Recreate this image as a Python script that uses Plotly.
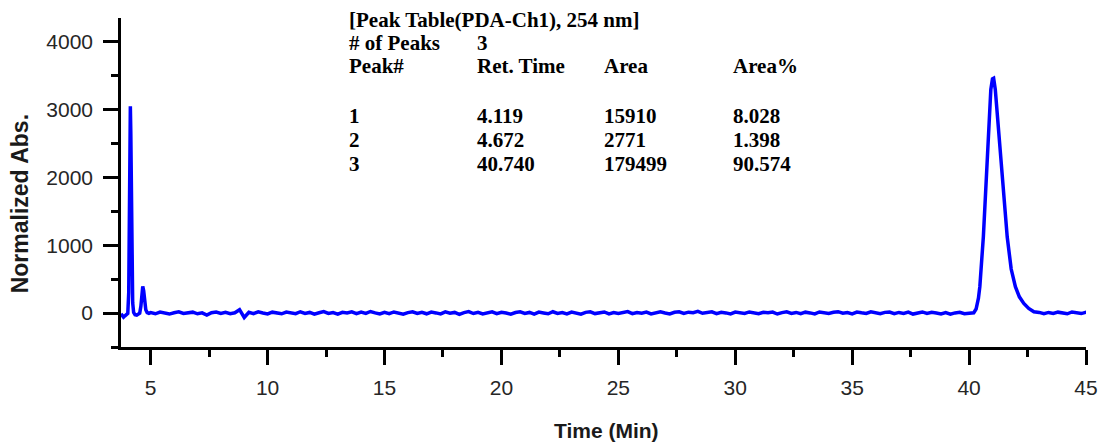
import numpy as np
import plotly.graph_objects as go

# ---- Chromatogram (PDA-Ch1, 254 nm) ----
# Early region: solvent front dip, peak 1 and peak 2
early_time = [3.73, 3.78, 3.84, 3.90, 3.96, 4.02, 4.06, 4.09, 4.11, 4.13, 4.15, 4.17,
              4.20, 4.23, 4.27, 4.33, 4.40, 4.47, 4.53, 4.58, 4.62, 4.66, 4.70, 4.74,
              4.79, 4.85, 4.92]
early_abs = [-10, -45, -60, -40, -25, -5, 300, 1500, 2600, 3050, 2650, 1700,
             700, 150, 10, -25, -30, -20, 0, 100, 280, 395, 330, 170,
             50, 5, -5]

# Baseline sampled every 0.2 min from 5.0 to 40.0 min
base_time = np.round(np.arange(5.0, 40.001, 0.2), 2)
base_abs = [
    8, -10, 16, 3, -14, 6, 18, -6, 2, 14,
    -10, 4, -30, 6, 15, -5, 12, -8, 5, 50,
    -65, 12, -8, 18, 2, -12, 14, 4, -10, 16,
    6, -8, 20, -4, 10, -16, 5, 22, -5, 9,
    -14, 12, 2, 18, -8, 14, -4, 24, 4, -12,
    13, -8, 17, 1, -16, 7, 20, -5, 12, -10,
    15, 3, -12, 19, -2, 10, -18, 7, 22, -6,
    12, -11, 5, 18, -9, 13, 1, -15, 9, 19,
    -5, 10, -14, 15, 2, -10, 20, -4, 8, -12,
    14, 4, -16, 11, 19, -7, 3, 17, -11, 8,
    -6, 13, 22, -9, 9, -2, 15, -13, 6, 18,
    2, -11, 12, 20, -5, 14, 7, 25, -3, 10,
    19, -7, 13, 3, -12, 15, 8, -6, 17, 1,
    -10, 11, 4, 16, -13, 7, 19, -4, 10, -9,
    14, 3, -11, 17, 5, -6, 12, 21, -2, 8,
    -12, 15, 4, -5, 20, 2, -10, 11, 16, -8,
    10, -4, 14, -14, 7, 17, -6, 11, 1, -12,
    7, -16, 3, 12, -9, 2,
]

# Main peak (peak 3)
main_time = [40.10, 40.20, 40.30, 40.40, 40.46, 40.55, 40.61, 40.68, 40.75, 40.85,
             40.93, 41.00, 41.05, 41.12, 41.23, 41.32, 41.41, 41.52, 41.63, 41.80,
             41.98, 42.15, 42.34, 42.55, 42.77, 43.00]
main_abs = [-5, 5, 60, 220, 390, 800, 1126, 1600, 2111, 2849,
            3300, 3455, 3465, 3300, 2849, 2450, 2111, 1600, 1126, 650,
            390, 240, 143, 70, 20, 10]

# Late baseline
late_time = [43.2, 43.4, 43.6, 43.8, 44.0, 44.2, 44.4, 44.6, 44.8, 45.0, 45.2, 45.4]
late_abs = [-8, 10, -5, 14, 4, -10, 17, 2, -7, 12, 3, -6]

time_min = list(early_time) + list(base_time) + main_time + late_time
norm_abs = list(early_abs) + list(base_abs) + main_abs + late_abs

# ---- Peak table ----
table_title = "[Peak Table(PDA-Ch1), 254 nm]"
n_peaks_label = "# of Peaks"
n_peaks = "3"
col_headers = ["Peak#", "Ret. Time", "Area", "Area%"]
peak_no = ["1", "2", "3"]
ret_time = ["4.119", "4.672", "40.740"]
area = ["15910", "2771", "179499"]
area_pct = ["8.028", "1.398", "90.574"]

x_ticks = [5, 10, 15, 20, 25, 30, 35, 40, 45]
y_ticks = [0, 1000, 2000, 3000, 4000]

W, H = 1110, 443
ML, MR, MT, MB = 121, 21, 18, 96
PW, PH = W - ML - MR, H - MT - MB


def px_x(px):
    return (px - ML) / PW


def px_y(py):
    return (H - MB - py) / PH


fig = go.Figure()
fig.add_trace(go.Scatter(
    x=time_min, y=norm_abs, mode="lines",
    line=dict(color="#0000ff", width=3.5),
    showlegend=False, hoverinfo="skip",
))

tick_font = dict(family="Arial, Liberation Sans, sans-serif", size=21, color="#262626")

fig.update_layout(
    width=W, height=H,
    margin=dict(l=ML, r=MR, t=MT, b=MB, pad=0),
    paper_bgcolor="white", plot_bgcolor="white",
    xaxis=dict(
        range=[3.73, 45], tickvals=x_ticks, ticktext=[str(v) for v in x_ticks],
        showgrid=False, zeroline=False,
        showline=True, linecolor="black", linewidth=2.5,
        ticks="outside", ticklen=15, tickwidth=2.5, tickcolor="black",
        minor=dict(dtick=2.5, tick0=0, ticks="outside", ticklen=7, tickwidth=2.5,
                   tickcolor="black", showgrid=False),
        tickfont=tick_font, ticklabelstandoff=5,
    ),
    yaxis=dict(
        range=[-500, 4354], tickvals=y_ticks, ticktext=[str(v) for v in y_ticks],
        showgrid=False, zeroline=False,
        showline=True, linecolor="black", linewidth=2.5,
        ticks="outside", ticklen=15, tickwidth=2.5, tickcolor="black",
        minor=dict(dtick=500, tick0=0, ticks="outside", ticklen=7, tickwidth=2.5,
                   tickcolor="black", showgrid=False),
        tickfont=tick_font, ticklabelstandoff=6,
    ),
)

annotations = []
# Axis titles
annotations.append(dict(
    text="<b>Normalized Abs.</b>", x=px_x(20), y=px_y(204), xref="paper", yref="paper",
    textangle=-90, showarrow=False, xanchor="center", yanchor="middle",
    font=dict(family="Arial, Liberation Sans, sans-serif", size=23, color="#1a1a1a"),
))
annotations.append(dict(
    text="<b>Time (Min)</b>", x=px_x(608), y=px_y(430), xref="paper", yref="paper",
    showarrow=False, xanchor="center", yanchor="middle",
    font=dict(family="Arial, Liberation Sans, sans-serif", size=21, color="#1a1a1a"),
))

# Peak table text
serif = dict(family="Times New Roman, Liberation Serif, serif", size=21, color="black")
col_x = [348, 476, 603, 733]
rows = [
    (20.5, [table_title]),
    (43, [n_peaks_label, n_peaks]),
    (66.5, col_headers),
    (115.5, [peak_no[0], ret_time[0], area[0], area_pct[0]]),
    (139.5, [peak_no[1], ret_time[1], area[1], area_pct[1]]),
    (163.5, [peak_no[2], ret_time[2], area[2], area_pct[2]]),
]
for ycen, cells in rows:
    for i, txt in enumerate(cells):
        annotations.append(dict(
            text="<b>" + txt + "</b>", x=px_x(col_x[i]), y=px_y(ycen),
            xref="paper", yref="paper", showarrow=False,
            xanchor="left", yanchor="middle", font=serif,
        ))

fig.update_layout(annotations=annotations)
fig.write_html("out.html")
